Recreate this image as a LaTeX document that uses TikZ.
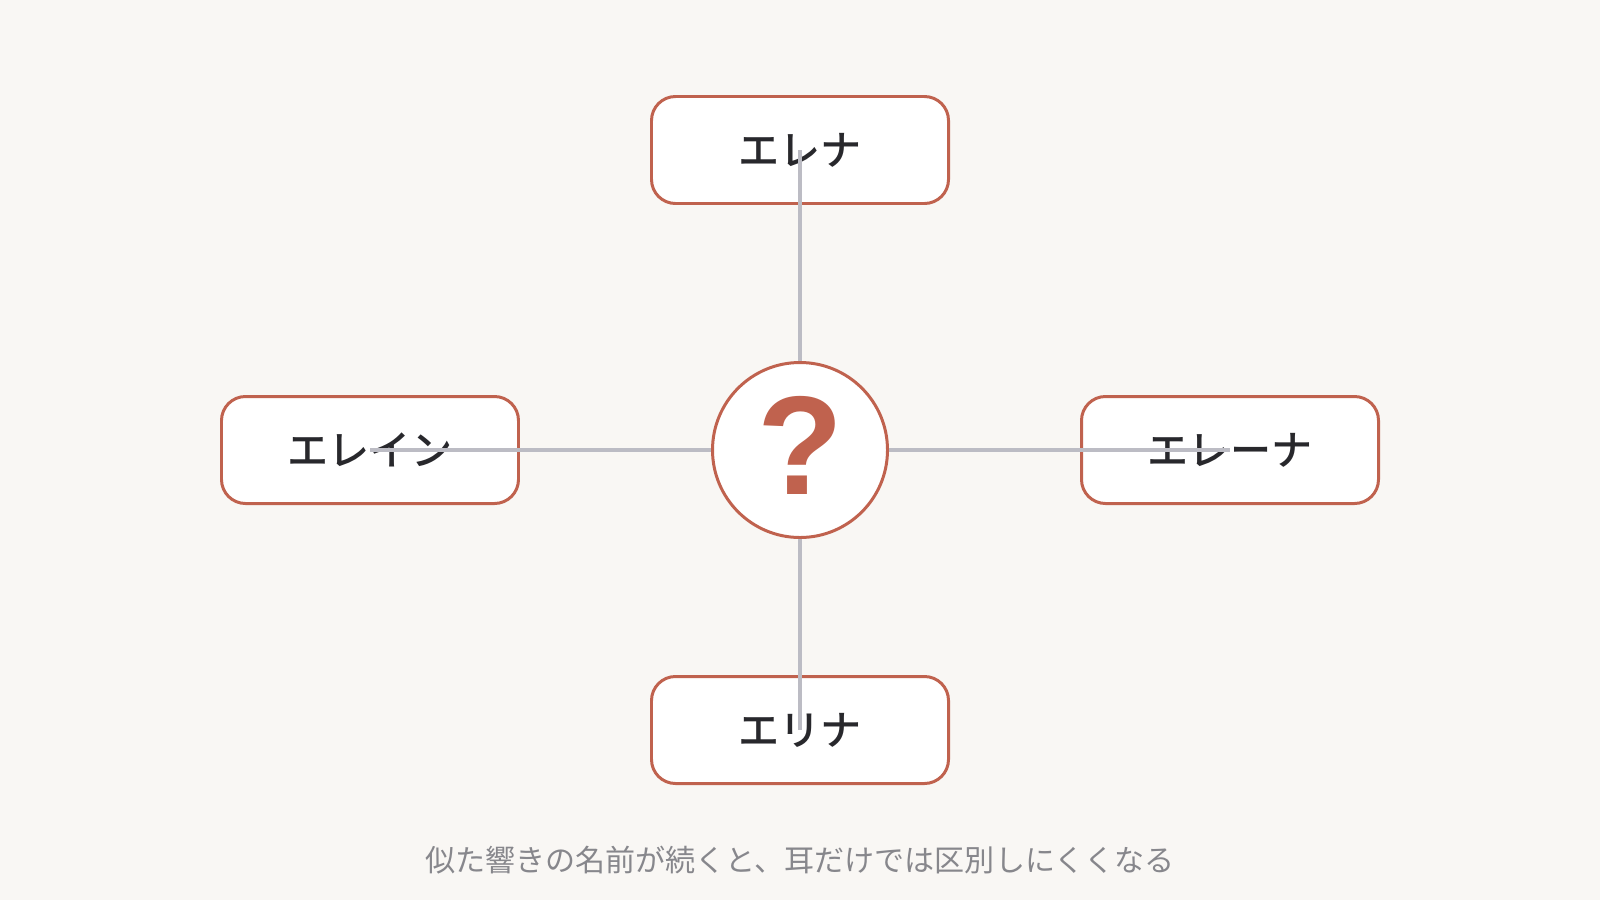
\documentclass[tikz,border=0pt]{standalone}
\usepackage{fontspec}
\usepackage{tikz}
\usetikzlibrary{positioning}
\newfontfamily\jpfont{Noto Sans CJK JP}
\newfontfamily\jpmedium{Noto Sans CJK JP Medium}
\newfontfamily\qfont{Liberation Sans}
\definecolor{pagebg}{RGB}{249, 247, 244}
\definecolor{terracotta}{RGB}{192, 98, 78}
\definecolor{linkgray}{RGB}{188, 188, 196}
\definecolor{namedark}{RGB}{40, 40, 44}
\definecolor{captiongray}{RGB}{135, 135, 140}

\begin{document}
\begin{tikzpicture}[
    namebox/.style={rectangle, draw=terracotta, line width=0.85pt, fill=white, rounded corners=0.24cm, minimum width=2.97cm, minimum height=1.07cm, align=center, text=namedark, font=\jpmedium\fontsize{11.7}{13}\selectfont},
    hub/.style={circle, draw=terracotta, line width=0.85pt, fill=white, minimum size=1.75cm, inner sep=0pt, text=terracotta, font=\qfont\bfseries\fontsize{40}{40}\selectfont},
    link/.style={draw=linkgray, line width=0.95pt}
]
    % Background and frame
    \fill[pagebg] (-8, -4.5) rectangle (8, 4.5);
    \useasboundingbox (-8, -4.5) rectangle (8, 4.5);

    % Names around the centre
    \node[namebox] (elena) at (0, 3) {エレナ};
    \node[namebox] (elaine) at (-4.3, 0) {エレイン};
    \node[namebox] (eleena) at (4.3, 0) {エレーナ};
    \node[namebox] (erina) at (0, -2.8) {エリナ};

    % Connectors
    \coordinate (centre) at (0, 0);
    \draw[link] (centre) -- (elena.center);
    \draw[link] (centre) -- (elaine.center);
    \draw[link] (centre) -- (eleena.center);
    \draw[link] (centre) -- (erina.center);

    % Question in the middle
    \node[hub] (question) at (centre) {\raisebox{0.09cm}{?}};

    % Caption
    \node[text=captiongray, font=\jpfont\fontsize{8.55}{10}\selectfont] (caption) at (0, -4.1) {似た響きの名前が続くと、耳だけでは区別しにくくなる};
\end{tikzpicture}
\end{document}
